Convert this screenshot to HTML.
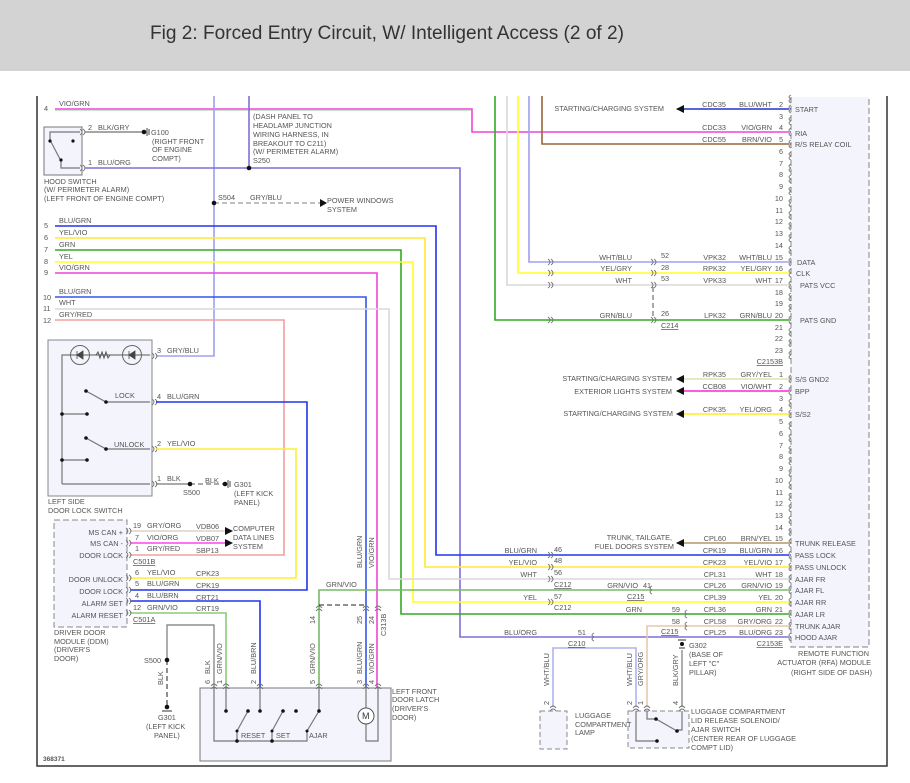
<!DOCTYPE html>
<html><head><meta charset="utf-8"><style>
html,body{margin:0;padding:0;background:#fff;width:910px;height:783px;overflow:hidden}
svg{display:block}
text{font-family:"Liberation Sans",sans-serif;font-size:7.3px;fill:#555}
.t{font-size:19px;fill:#333}
.r{text-anchor:end}
.w{fill:none;stroke-width:1.6}
.k{fill:none;stroke:#777;stroke-width:1.2}
</style></head><body>
<svg width="910" height="783" viewBox="0 0 910 783">
<defs>
<path id="cl" d="M2,-4 q-4,2 0,4 M2,0 q-4,2 0,4" fill="none" stroke="#777" stroke-width="0.9"/>
<path id="cr" d="M-2,-3 q4,3 0,6 M1,-3 q4,3 0,6" fill="none" stroke="#777" stroke-width="0.9"/>
<path id="cu" d="M-3,2 q3,-4 6,0 M-3,5 q3,-4 6,0" fill="none" stroke="#777" stroke-width="0.9"/>
</defs>
<rect x="0" y="0" width="910" height="71" fill="#d3d3d3"/>
<text x="150" y="39" class="t" textLength="474" lengthAdjust="spacingAndGlyphs">Fig 2: Forced Entry Circuit, W/ Intelligent Access (2 of 2)</text>

<!-- frame -->
<path d="M37,96 V766 H887 V96" fill="none" stroke="#333" stroke-width="1.5"/>

<!-- module box -->
<rect x="791" y="96" width="78" height="551" fill="#f4f4fc" stroke="#999" stroke-width="1.2" stroke-dasharray="6,3"/>
<line x1="791" y1="96" x2="869" y2="96" stroke="#fff" stroke-width="2"/>

<!-- top wires -->
<path class="w" d="M55,109 H472 V132 H789" stroke="#ee44dd"/>
<path d="M55,110.5 H471" stroke="#9c9" stroke-width="0.6"/>
<path class="w" d="M214,96 V356 H156" stroke="#a0a0f0"/>
<path class="w" d="M249,96 V168" stroke="#7f6fd9"/>
<path class="w" d="M85,168 H460 V637 H789" stroke="#7f6fd9"/>
<path class="w" d="M85,132 H142" stroke="#888"/>
<path d="M214,203 H320" stroke="#aaa" stroke-width="1.4" stroke-dasharray="5,3" fill="none"/>
<path d="M320,199 L327,203 L320,207Z" fill="#111"/>
<circle cx="214" cy="203" r="2.3" fill="#111"/><circle cx="249" cy="168" r="2.3" fill="#111"/>
<circle cx="144" cy="132" r="2.3" fill="#111"/><path d="M147,128 V136 M149,129 V135" stroke="#444"/>

<!-- pins 5-12 -->
<path class="w" d="M55,226 H436 V555 H789" stroke="#2233ee"/>
<path class="w" d="M55,238 H425 V567 H789" stroke="#ffe833"/>
<path class="w" d="M55,250 H401 V614 H789" stroke="#33aa22"/>
<path class="w" d="M55,262 H413 V602 H789" stroke="#ffff22"/>
<path class="w" d="M55,273 H377 V688" stroke="#ee44dd"/>
<path class="w" d="M55,297 H366 V688" stroke="#3355ee"/>
<path class="w" d="M55,309 H389 V579 H789" stroke="#d8d8d8"/>
<path class="w" d="M55,320 H284 V555 H130" stroke="#f0a0a0"/>

<!-- right top verticals -->
<path class="w" d="M495,96 V320 H789" stroke="#33aa22"/>
<path class="w" d="M507,96 V285 H789" stroke="#d8d8d8"/>
<path class="w" d="M518,96 V273 H789" stroke="#ffff22"/>
<path class="w" d="M529,96 V262 H789" stroke="#a0a0f0"/>
<path class="w" d="M542,96 V144 H789" stroke="#996633"/>
<path class="w" d="M677,109 H789" stroke="#2233cc"/>
<path d="M684,105 L676,109 L684,113Z" fill="#111"/>
<path d="M653,287 V318" stroke="#555" stroke-dasharray="5,3"/>

<!-- second section wires -->
<path class="w" d="M677,379 H789" stroke="#e0e0b0"/>
<path class="w" d="M677,391 H789" stroke="#ff22dd"/>
<path class="w" d="M677,414 H789" stroke="#ffee22"/>
<path class="w" d="M677,543 H789" stroke="#b09a60"/>
<path d="M684,375 L676,379 L684,383Z M684,387 L676,391 L684,395Z M684,410 L676,414 L684,418Z M684,539 L676,543 L684,547Z" fill="#111"/>
<path class="w" d="M319,688 V590 H789" stroke="#77bb66"/>
<path class="w" d="M789,626 H647 V707" stroke="#e8c8a8"/>

<!-- luggage -->
<path class="w" d="M553,707 V648 H636 V707" stroke="#b0b0ee"/>
<path class="k" d="M682,650 V707"/>
<circle cx="682" cy="644" r="2" fill="#111"/><path d="M678,640 H686 M679,648 H685" stroke="#333"/>
<rect x="540" y="711" width="27" height="38" fill="#f4f4fc" stroke="#888" stroke-dasharray="5,3"/>
<rect x="628" y="711" width="61" height="37" fill="#f4f4fc" stroke="#888" stroke-dasharray="5,3"/>
<path class="k" d="M636,711 V741 H657 M647,711 V719 H656 L677,731 M682,711 V730 H677"/>
<circle cx="657" cy="741" r="1.8" fill="#111"/><circle cx="656" cy="719" r="1.8" fill="#111"/><circle cx="677" cy="731" r="1.8" fill="#111"/>
<use href="#cu" x="553" y="706"/><use href="#cu" x="636" y="706"/><use href="#cu" x="647" y="706"/><use href="#cu" x="682" y="706"/>

<!-- hood switch -->
<rect x="44" y="127" width="38" height="48" fill="#f4f4fc" stroke="#777"/>
<path class="k" d="M80,132 H50 V140 L61,161 V168 H80 M80,168"/>
<circle cx="50" cy="141" r="1.6" fill="#111"/><circle cx="73" cy="141" r="1.6" fill="#111"/><circle cx="61" cy="160" r="1.6" fill="#111"/>
<use href="#cr" x="82" y="132"/><use href="#cr" x="82" y="168"/>

<!-- lock switch -->
<rect x="48" y="340" width="104" height="156" fill="#f4f4fc" stroke="#888"/>
<path class="k" d="M62,484 V355 H150 M62,414 H87 M62,460 H87 M86,391 L106,402 H150 M86,438 L106,449 H150 M62,484 H150"/>
<circle cx="80" cy="355" r="9.5" fill="none" stroke="#666"/><circle cx="132" cy="355" r="9.5" fill="none" stroke="#666"/>
<path d="M77,351 V359 M77,355 L83,351 V359Z M129,351 V359 M129,355 L135,351 V359Z" stroke="#444" fill="#444" stroke-width="0.8"/>
<path d="M96,355 l2,-3 l2,6 l2,-6 l2,6 l2,-6 l2,6 l2,-3" fill="none" stroke="#555"/>
<g fill="#111"><circle cx="62" cy="414" r="1.8"/><circle cx="87" cy="414" r="1.8"/><circle cx="62" cy="460" r="1.8"/><circle cx="87" cy="460" r="1.8"/><circle cx="86" cy="391" r="1.8"/><circle cx="106" cy="402" r="1.8"/><circle cx="86" cy="438" r="1.8"/><circle cx="106" cy="449" r="1.8"/></g>
<use href="#cr" x="154" y="356"/><use href="#cr" x="154" y="402"/><use href="#cr" x="154" y="449"/><use href="#cr" x="154" y="484"/>
<path class="w" d="M156,402 H307 V590 H130" stroke="#2233ee"/>
<path class="w" d="M156,449 H296 V578 H130" stroke="#ffee33"/>
<path class="k" d="M156,484 H190" />
<path d="M190,484 H225" stroke="#555" stroke-dasharray="5,3"/>
<circle cx="190" cy="484" r="2.3" fill="#111"/><circle cx="225" cy="484" r="2.3" fill="#111"/><path d="M228,480 V488 M230,481 V487" stroke="#444"/>

<!-- DDM -->
<rect x="54" y="520" width="73" height="107" fill="#f4f4fc" stroke="#888" stroke-dasharray="6,3"/>
<path class="w" d="M130,531 H225" stroke="#e0d0c8"/>
<path d="M225,527 L233,531 L225,535Z M225,539 L233,543 L225,547Z" fill="#111"/>
<path class="w" d="M130,543 H225" stroke="#ff44ee"/>
<path class="w" d="M130,601 H260 V688" stroke="#2233ee"/>
<path class="w" d="M130,613 H226 V688" stroke="#88cc77"/>
<g><use href="#cr" x="128" y="531"/><use href="#cr" x="128" y="543"/><use href="#cr" x="128" y="555"/><use href="#cr" x="128" y="578"/><use href="#cr" x="128" y="590"/><use href="#cr" x="128" y="601"/><use href="#cr" x="128" y="613"/></g>

<!-- BLK ground to latch -->
<path class="k" d="M214,688 V625 H167 V660"/>
<path d="M167,660 V705" stroke="#555" stroke-width="1.3" stroke-dasharray="5,3"/>
<circle cx="167" cy="660" r="2.3" fill="#111"/><circle cx="167" cy="707" r="2.3" fill="#111"/><path d="M162,711 H172" stroke="#333"/>

<!-- C313B -->
<path d="M319,605 H366" stroke="#222" stroke-dasharray="5,3"/>
<use href="#cu" x="319" y="606"/><use href="#cu" x="366" y="606"/><use href="#cu" x="378" y="606"/>

<!-- latch -->
<rect x="200" y="688" width="191" height="73" fill="#f4f4fc" stroke="#777"/>
<path class="k" d="M214,688 V741 H307 V731 L319,711 V688 M226,688 V711 M260,688 V711 M237,741 V731 L248,711 M272,741 V731 L283,711 M366,688 V741 H378 V688"/>
<g fill="#111"><circle cx="226" cy="711" r="1.8"/><circle cx="260" cy="711" r="1.8"/><circle cx="296" cy="711" r="1.8"/><circle cx="248" cy="711" r="1.8"/><circle cx="283" cy="711" r="1.8"/><circle cx="319" cy="711" r="1.8"/><circle cx="237" cy="741" r="1.8"/><circle cx="272" cy="741" r="1.8"/><circle cx="237" cy="731" r="1.5"/><circle cx="272" cy="731" r="1.5"/><circle cx="307" cy="731" r="1.5"/></g>
<circle cx="366" cy="716" r="8" fill="#fff" stroke="#555"/><text x="362" y="719" style="font-size:9px;fill:#333">M</text>
<use href="#cu" x="214" y="684"/><use href="#cu" x="226" y="684"/><use href="#cu" x="260" y="684"/><use href="#cu" x="319" y="684"/><use href="#cu" x="366" y="684"/><use href="#cu" x="378" y="684"/>

<!-- inline connectors -->
<use href="#cr" x="550" y="262"/><use href="#cr" x="550" y="273"/><use href="#cr" x="550" y="285"/><use href="#cr" x="550" y="320"/>
<g transform="translate(103,0)"><use href="#cr" x="550" y="262"/><use href="#cr" x="550" y="273"/><use href="#cr" x="550" y="285"/><use href="#cr" x="550" y="320"/></g>
<use href="#cr" x="550" y="555"/><use href="#cr" x="550" y="567"/><use href="#cr" x="550" y="579"/><use href="#cr" x="550" y="602"/>
<use href="#cl" x="650" y="590"/><use href="#cl" x="685" y="614"/><use href="#cl" x="685" y="626"/><use href="#cl" x="592" y="637"/>

<!-- module pin marks -->
<g>
<use href="#cl" x="789" y="99"/><use href="#cl" x="789" y="109"/><use href="#cl" x="789" y="121"/><use href="#cl" x="789" y="132"/><use href="#cl" x="789" y="144"/><use href="#cl" x="789" y="156"/><use href="#cl" x="789" y="168"/><use href="#cl" x="789" y="179"/><use href="#cl" x="789" y="191"/><use href="#cl" x="789" y="203"/><use href="#cl" x="789" y="215"/><use href="#cl" x="789" y="226"/><use href="#cl" x="789" y="238"/><use href="#cl" x="789" y="250"/><use href="#cl" x="789" y="262"/><use href="#cl" x="789" y="273"/><use href="#cl" x="789" y="285"/><use href="#cl" x="789" y="297"/><use href="#cl" x="789" y="308"/><use href="#cl" x="789" y="320"/><use href="#cl" x="789" y="332"/><use href="#cl" x="789" y="343"/><use href="#cl" x="789" y="355"/>
<use href="#cl" x="789" y="379"/><use href="#cl" x="789" y="391"/><use href="#cl" x="789" y="403"/><use href="#cl" x="789" y="414"/><use href="#cl" x="789" y="426"/><use href="#cl" x="789" y="438"/><use href="#cl" x="789" y="450"/><use href="#cl" x="789" y="461"/><use href="#cl" x="789" y="473"/><use href="#cl" x="789" y="485"/><use href="#cl" x="789" y="497"/><use href="#cl" x="789" y="508"/><use href="#cl" x="789" y="520"/><use href="#cl" x="789" y="532"/><use href="#cl" x="789" y="543"/><use href="#cl" x="789" y="555"/><use href="#cl" x="789" y="567"/><use href="#cl" x="789" y="579"/><use href="#cl" x="789" y="590"/><use href="#cl" x="789" y="602"/><use href="#cl" x="789" y="614"/><use href="#cl" x="789" y="626"/><use href="#cl" x="789" y="637"/>
</g>

<!-- pin numbers -->
<g class="r" text-anchor="end">
<text x="783" y="107">2</text><text x="783" y="119">3</text><text x="783" y="130">4</text><text x="783" y="142">5</text><text x="783" y="154">6</text><text x="783" y="166">7</text><text x="783" y="177">8</text><text x="783" y="189">9</text><text x="783" y="201">10</text><text x="783" y="213">11</text><text x="783" y="224">12</text><text x="783" y="236">13</text><text x="783" y="248">14</text><text x="783" y="260">15</text><text x="783" y="271">16</text><text x="783" y="283">17</text><text x="783" y="295">18</text><text x="783" y="306">19</text><text x="783" y="318">20</text><text x="783" y="330">21</text><text x="783" y="341">22</text><text x="783" y="353">23</text>
<text x="783" y="364" text-decoration="underline">C2153B</text>
<text x="783" y="377">1</text><text x="783" y="389">2</text><text x="783" y="401">3</text><text x="783" y="412">4</text><text x="783" y="424">5</text><text x="783" y="436">6</text><text x="783" y="448">7</text><text x="783" y="459">8</text><text x="783" y="471">9</text><text x="783" y="483">10</text><text x="783" y="495">11</text><text x="783" y="506">12</text><text x="783" y="518">13</text><text x="783" y="530">14</text><text x="783" y="541">15</text><text x="783" y="553">16</text><text x="783" y="565">17</text><text x="783" y="577">18</text><text x="783" y="588">19</text><text x="783" y="600">20</text><text x="783" y="612">21</text><text x="783" y="624">22</text><text x="783" y="635">23</text>
<text x="783" y="646" text-decoration="underline">C2153E</text>
<!-- color labels -->
<text x="772" y="107">BLU/WHT</text><text x="772" y="130">VIO/GRN</text><text x="772" y="142">BRN/VIO</text>
<text x="772" y="260">WHT/BLU</text><text x="772" y="271">YEL/GRY</text><text x="772" y="283">WHT</text><text x="772" y="318">GRN/BLU</text>
<text x="772" y="377">GRY/YEL</text><text x="772" y="389">VIO/WHT</text><text x="772" y="412">YEL/ORG</text>
<text x="772" y="541">BRN/YEL</text><text x="772" y="553">BLU/GRN</text><text x="772" y="565">YEL/VIO</text><text x="772" y="577">WHT</text><text x="772" y="588">GRN/VIO</text><text x="772" y="600">YEL</text><text x="772" y="612">GRN</text><text x="772" y="624">GRY/ORG</text><text x="772" y="635">BLU/ORG</text>
<!-- circuit labels -->
<text x="726" y="107">CDC35</text><text x="726" y="130">CDC33</text><text x="726" y="142">CDC55</text>
<text x="726" y="260">VPK32</text><text x="726" y="271">RPK32</text><text x="726" y="283">VPK33</text><text x="726" y="318">LPK32</text>
<text x="726" y="377">RPK35</text><text x="726" y="389">CCB08</text><text x="726" y="412">CPK35</text>
<text x="726" y="541">CPL60</text><text x="726" y="553">CPK19</text><text x="726" y="565">CPK23</text><text x="726" y="577">CPL31</text><text x="726" y="588">CPL26</text><text x="726" y="600">CPL39</text><text x="726" y="612">CPL36</text><text x="726" y="624">CPL58</text><text x="726" y="635">CPL25</text>
<!-- systems -->
<text x="664" y="111">STARTING/CHARGING SYSTEM</text>
<text x="672" y="381">STARTING/CHARGING SYSTEM</text>
<text x="672" y="394">EXTERIOR LIGHTS SYSTEM</text>
<text x="673" y="416">STARTING/CHARGING SYSTEM</text>
<text x="672" y="540">TRUNK, TAILGATE,</text>
<text x="674" y="549">FUEL DOORS SYSTEM</text>
<!-- left of C214 -->
<text x="632" y="260">WHT/BLU</text><text x="632" y="271">YEL/GRY</text><text x="632" y="283">WHT</text><text x="632" y="318">GRN/BLU</text>
<text x="537" y="553">BLU/GRN</text><text x="537" y="565">YEL/VIO</text><text x="537" y="577">WHT</text><text x="537" y="600">YEL</text>
<text x="537" y="635">BLU/ORG</text>
<text x="638" y="588">GRN/VIO</text><text x="643" y="588" text-anchor="start">41</text>
<text x="642" y="612">GRN</text><text x="680" y="612">59</text><text x="680" y="624">58</text><text x="586" y="635">51</text>
<!-- DDM labels -->
<text x="123" y="535">MS CAN +</text><text x="123" y="546">MS CAN -</text><text x="123" y="558">DOOR LOCK</text>
<text x="123" y="582">DOOR UNLOCK</text><text x="123" y="594">DOOR LOCK</text><text x="123" y="606">ALARM SET</text><text x="123" y="618">ALARM RESET</text>
</g>

<!-- module labels -->
<text x="795" y="112">START</text><text x="795" y="136">RIA</text><text x="795" y="147">R/S RELAY COIL</text>
<text x="797" y="265">DATA</text><text x="796" y="276">CLK</text><text x="800" y="288">PATS VCC</text><text x="800" y="323">PATS GND</text>
<text x="795" y="382">S/S GND2</text><text x="795" y="394">BPP</text><text x="795" y="417">S/S2</text>
<text x="795" y="546">TRUNK RELEASE</text><text x="795" y="558">PASS LOCK</text><text x="795" y="570">PASS UNLOCK</text><text x="795" y="582">AJAR FR</text><text x="795" y="593">AJAR FL</text><text x="795" y="605">AJAR RR</text><text x="795" y="617">AJAR LR</text><text x="795" y="629">TRUNK AJAR</text><text x="795" y="640">HOOD AJAR</text>
<text x="869" y="656" text-anchor="end">REMOTE FUNCTION</text>
<text x="871" y="665" text-anchor="end">ACTUATOR (RFA) MODULE</text>
<text x="872" y="675" text-anchor="end">(RIGHT SIDE OF DASH)</text>

<!-- connector numbers/labels -->
<text x="661" y="258">52</text><text x="661" y="270">28</text><text x="661" y="281">53</text><text x="661" y="316">26</text><text x="661" y="328" text-decoration="underline">C214</text>
<text x="554" y="552">46</text><text x="554" y="563">48</text><text x="554" y="575">56</text><text x="554" y="587" text-decoration="underline">C212</text><text x="554" y="599">57</text><text x="554" y="610">C212</text>
<text x="627" y="599" text-decoration="underline">C215</text><text x="661" y="634" text-decoration="underline">C215</text><text x="568" y="646" text-decoration="underline">C210</text>

<!-- left labels -->
<text x="44" y="111">4</text><text x="59" y="106">VIO/GRN</text>
<text x="88" y="130">2</text><text x="98" y="130">BLK/GRY</text>
<text x="88" y="165">1</text><text x="98" y="165">BLU/ORG</text>
<text x="151" y="135">G100</text><text x="152" y="144">(RIGHT FRONT</text><text x="152" y="152">OF ENGINE</text><text x="152" y="161">COMPT)</text>
<text x="253" y="119">(DASH PANEL TO</text><text x="253" y="128">HEADLAMP JUNCTION</text><text x="253" y="137">WIRING HARNESS, IN</text><text x="253" y="146">BREAKOUT TO C211)</text><text x="253" y="154">(W/ PERIMETER ALARM)</text><text x="253" y="163">S250</text>
<text x="44" y="184">HOOD SWITCH</text><text x="44" y="192">(W/ PERIMETER ALARM)</text><text x="44" y="201">(LEFT FRONT OF ENGINE COMPT)</text>
<text x="218" y="200">S504</text><text x="250" y="200">GRY/BLU</text>
<text x="327" y="203">POWER WINDOWS</text><text x="327" y="212">SYSTEM</text>
<text x="44" y="228">5</text><text x="59" y="223">BLU/GRN</text>
<text x="44" y="240">6</text><text x="59" y="235">YEL/VIO</text>
<text x="44" y="252">7</text><text x="59" y="247">GRN</text>
<text x="44" y="264">8</text><text x="59" y="259">YEL</text>
<text x="44" y="275">9</text><text x="59" y="270">VIO/GRN</text>
<text x="43" y="300">10</text><text x="59" y="294">BLU/GRN</text>
<text x="43" y="311">11</text><text x="59" y="305">WHT</text>
<text x="43" y="323">12</text><text x="59" y="317">GRY/RED</text>
<text x="157" y="353">3</text><text x="167" y="353">GRY/BLU</text>
<text x="115" y="398">LOCK</text><text x="157" y="399">4</text><text x="167" y="399">BLU/GRN</text>
<text x="114" y="447">UNLOCK</text><text x="157" y="446">2</text><text x="167" y="446">YEL/VIO</text>
<text x="157" y="481">1</text><text x="167" y="481">BLK</text><text x="205" y="483">BLK</text>
<text x="183" y="495">S500</text><text x="234" y="487">G301</text><text x="234" y="496">(LEFT KICK</text><text x="234" y="505">PANEL)</text>
<text x="48" y="504">LEFT SIDE</text><text x="48" y="513">DOOR LOCK SWITCH</text>
<text x="133" y="528">19</text><text x="147" y="528">GRY/ORG</text><text x="196" y="529">VDB06</text>
<text x="135" y="540">7</text><text x="147" y="540">VIO/ORG</text><text x="196" y="541">VDB07</text>
<text x="135" y="551">1</text><text x="147" y="551">GRY/RED</text><text x="196" y="553">SBP13</text>
<text x="233" y="531">COMPUTER</text><text x="233" y="540">DATA LINES</text><text x="233" y="549">SYSTEM</text>
<text x="133" y="564" text-decoration="underline">C501B</text>
<text x="135" y="575">6</text><text x="147" y="575">YEL/VIO</text><text x="196" y="576">CPK23</text>
<text x="135" y="586">5</text><text x="147" y="586">BLU/GRN</text><text x="196" y="588">CPK19</text>
<text x="135" y="598">4</text><text x="147" y="598">BLU/BRN</text><text x="196" y="600">CRT21</text>
<text x="133" y="610">12</text><text x="147" y="610">GRN/VIO</text><text x="196" y="611">CRT19</text>
<text x="133" y="622" text-decoration="underline">C501A</text>
<text x="54" y="635">DRIVER DOOR</text><text x="54" y="644">MODULE (DDM)</text><text x="54" y="652">(DRIVER'S</text><text x="54" y="661">DOOR)</text>
<text x="326" y="587">GRN/VIO</text>
<text x="144" y="663">S500</text>
<text x="158" y="720">G301</text><text x="146" y="729">(LEFT KICK</text><text x="154" y="738">PANEL)</text>
<text x="392" y="694">LEFT FRONT</text><text x="392" y="702">DOOR LATCH</text><text x="392" y="711">(DRIVER'S</text><text x="392" y="720">DOOR)</text>
<text x="241" y="738">RESET</text><text x="276" y="738">SET</text><text x="309" y="738">AJAR</text>
<text x="43" y="761" style="font-weight:bold;font-size:6.5px">368371</text>
<text x="575" y="718">LUGGAGE</text><text x="575" y="727">COMPARTMENT</text><text x="575" y="735">LAMP</text>
<text x="691" y="714">LUGGAGE COMPARTMENT</text><text x="691" y="723">LID RELEASE SOLENOID/</text><text x="691" y="732">AJAR SWITCH</text><text x="691" y="741">(CENTER REAR OF LUGGAGE</text><text x="691" y="750">COMPT LID)</text>
<text x="689" y="648">G302</text><text x="689" y="657">(BASE OF</text><text x="689" y="666">LEFT "C"</text><text x="689" y="675">PILLAR)</text>

<!-- vertical labels -->
<g>
<text transform="translate(163,685) rotate(-90)">BLK</text>
<text transform="translate(210,674) rotate(-90)">BLK</text>
<text transform="translate(222,674) rotate(-90)">GRN/VIO</text>
<text transform="translate(256,674) rotate(-90)">BLU/BRN</text>
<text transform="translate(315,674) rotate(-90)">GRN/VIO</text>
<text transform="translate(362,674) rotate(-90)">BLU/GRN</text>
<text transform="translate(374,674) rotate(-90)">VIO/GRN</text>
<text transform="translate(362,568) rotate(-90)">BLU/GRN</text>
<text transform="translate(374,568) rotate(-90)">VIO/GRN</text>
<text transform="translate(315,624) rotate(-90)">14</text>
<text transform="translate(362,624) rotate(-90)">25</text>
<text transform="translate(374,624) rotate(-90)">24</text>
<text transform="translate(386,636) rotate(-90)">C313B</text>
<text transform="translate(210,684) rotate(-90)">6</text>
<text transform="translate(222,684) rotate(-90)">1</text>
<text transform="translate(256,684) rotate(-90)">2</text>
<text transform="translate(315,684) rotate(-90)">5</text>
<text transform="translate(362,684) rotate(-90)">3</text>
<text transform="translate(374,684) rotate(-90)">4</text>
<text transform="translate(549,686) rotate(-90)">WHT/BLU</text>
<text transform="translate(632,686) rotate(-90)">WHT/BLU</text>
<text transform="translate(643,686) rotate(-90)">GRY/ORG</text>
<text transform="translate(678,686) rotate(-90)">BLK/GRY</text>
<text transform="translate(549,705) rotate(-90)">2</text>
<text transform="translate(632,705) rotate(-90)">2</text>
<text transform="translate(643,705) rotate(-90)">1</text>
<text transform="translate(678,705) rotate(-90)">4</text>
</g>
</svg>
</body></html>
